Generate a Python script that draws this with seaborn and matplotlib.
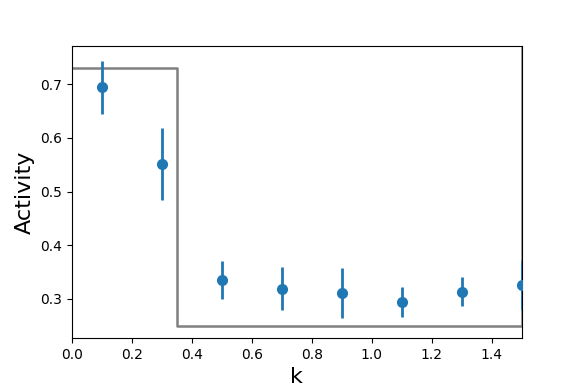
import pandas as pd
import matplotlib
matplotlib.use("Agg")
import matplotlib.pyplot as plt
import seaborn as sns

# step curve (reference level)
step_k = [0.0, 0.35, 1.5, 2.0]
step_activity = [0.73, 0.25, 0.80, 0.80]

# measured points with error bars
k_vals = [0.1, 0.3, 0.5, 0.7, 0.9, 1.1, 1.3, 1.5]
activity = [0.694, 0.551, 0.335, 0.319, 0.311, 0.294, 0.313, 0.326]
activity_err = [0.050, 0.067, 0.035, 0.040, 0.047, 0.028, 0.027, 0.046]

sns.set_style("ticks")
plt.rcParams['font.family'] = ['DejaVu Sans']
plt.rcParams.update({'text.color': 'black', 'axes.labelcolor': 'black',
                     'xtick.color': 'black', 'ytick.color': 'black'})

fig = plt.figure(figsize=(5.81, 3.88), dpi=100)
ax = fig.add_axes([0.124, 0.129, 0.774, 0.752])

step_df = pd.DataFrame({'k': step_k, 'activity': step_activity})
sns.lineplot(data=step_df, x='k', y='activity', ax=ax, color='gray',
             drawstyle='steps-post', linewidth=1.8, zorder=2)

ax.errorbar(k_vals, activity, yerr=activity_err, fmt='o', color='#1f77b4',
            markersize=7, elinewidth=2, zorder=3)

ax.set_xlim(0, 1.5)
ax.set_ylim(0.2274, 0.7707)
ax.set_xticks([0.0, 0.2, 0.4, 0.6, 0.8, 1.0, 1.2, 1.4])
ax.set_yticks([0.3, 0.4, 0.5, 0.6, 0.7])
ax.tick_params(labelsize=10, direction='out', length=3.5, width=0.8)
ax.set_xlabel('k', fontsize=16)
ax.set_ylabel('Activity', fontsize=16)
for s in ax.spines.values():
    s.set_color('black')
    s.set_linewidth(0.8)

plt.savefig('out.png', dpi=100)
